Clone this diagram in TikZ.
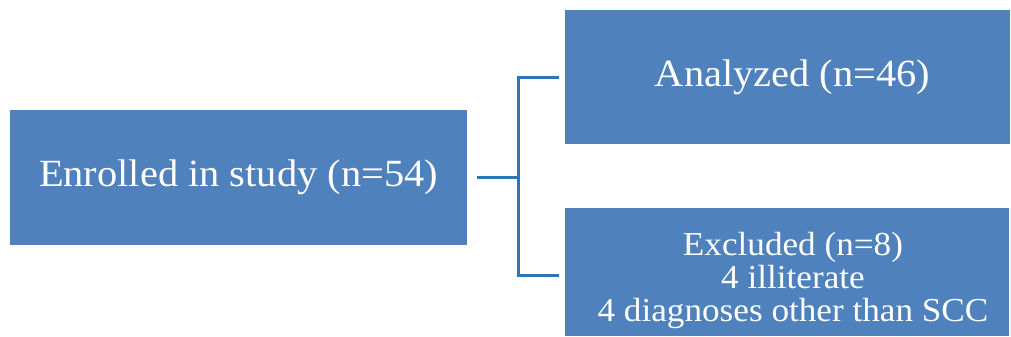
\documentclass[tikz,border=0pt]{standalone}
\usepackage{fontspec}
\setmainfont{Liberation Serif}[FakeStretch=1.05]
\definecolor{boxblue}{HTML}{4F81BD}
\definecolor{lineblue}{HTML}{2E75B6}
\begin{document}
\begin{tikzpicture}[x=1pt,y=-1pt,
  bx/.style={fill=boxblue,draw=none,text=white,inner sep=0pt,align=center},
  conn/.style={draw=lineblue,line width=3pt}]
\useasboundingbox (0,0) rectangle (1011,337);
\node[bx,minimum width=457pt,minimum height=135pt,font=\fontsize{38.5}{40}\selectfont] (L) at (238.5,177.5) {Enrolled in study (n=54)};
\node[bx,minimum width=445pt,minimum height=134pt,font=\fontsize{38.5}{40}\selectfont] (T) at (787.5,77) {\hspace*{10pt}Analyzed (n=46)};
\node[bx,minimum width=444pt,minimum height=128pt,font=\fontsize{33.5}{32}\selectfont] (B) at (787,272) {\hspace*{12pt}\raisebox{-10pt}[\height][\depth]{\begin{tabular}{@{}c@{}}Excluded (n=8)\\4 illiterate\\4 diagnoses other than SCC\end{tabular}}};
\coordinate (s) at ([xshift=10pt]L.east);
\coordinate (j) at ([xshift=51pt]L.east);
\coordinate (te) at ([xshift=-6pt]T.west);
\coordinate (be) at ([xshift=-6pt,yshift=-3pt]B.west);
\draw[conn] (s) -- (j);
\draw[conn] (te) -| (j) |- (be);
\end{tikzpicture}
\end{document}
